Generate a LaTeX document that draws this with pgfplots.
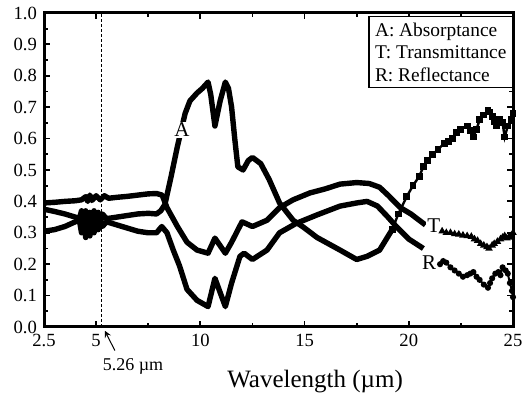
\documentclass[border=0pt]{standalone}
\usepackage{fontspec}
\setmainfont{Liberation Serif}
\usepackage{pgfplots}
\pgfplotsset{compat=1.18}
\begin{document}
\begin{tikzpicture}
\useasboundingbox (-22pt,-33.5pt) rectangle (240pt,163.5pt);
\begin{axis}[
  at={(0,0)}, anchor=south west,
  scale only axis, width=234.5pt, height=157pt,
  xmin=2.5, xmax=25, ymin=0, ymax=1,
  xtick={2.5,5,10,15,20,25}, xticklabels={2.5,5,10,15,20,25},
  minor xtick={7.5,12.5,17.5,22.5},
  ytick={0,0.1,0.2,0.3,0.4,0.5,0.6,0.7,0.8,0.9,1.0},
  minor y tick num=1,
  yticklabel style={/pgf/number format/fixed, /pgf/number format/fixed zerofill, /pgf/number format/precision=1},
  /pgf/number format/assume math mode=true,
  tick align=inside,
  major tick length=3.2pt, minor tick length=2pt,
  every tick/.append style={black, line width=0.9pt},
  axis line style={line width=1.5pt},
  tick label style={font=\fontsize{9.3}{10}\selectfont},
  xlabel={Wavelength (µm)},
  xlabel style={font=\fontsize{12.5}{14}\selectfont, at={(axis description cs:0.578,0)}, anchor=center, yshift=-27.5pt},
  clip=false,
]
% reference line at 5.26 um
\addplot[black, dashed, line width=0.4pt, dash pattern=on 1.5pt off 1pt] coordinates {(5.26,0) (5.26,1)};
% A: Absorptance (main part)
\addplot[black, line width=2.7pt, line join=round] coordinates {
(2.5,0.375) (3,0.368) (3.5,0.36) (4.0,0.35) (4.2,0.345) (4.3,0.37) (4.4,0.32) (4.5,0.37) (4.6,0.31) (4.7,0.365) (4.8,0.33) (4.9,0.37) (5.0,0.33) (5.1,0.365) (5.2,0.335) (5.3,0.36) (5.5,0.345) (6,0.35) (6.5,0.355) (7,0.36) (7.5,0.362) (7.9,0.36) (8.1,0.37) (8.3,0.39) (8.6,0.48) (8.9,0.575) (9.27,0.68) (9.5,0.72) (9.84,0.745) (10.1,0.76) (10.37,0.78) (10.5,0.74) (10.7,0.64) (10.95,0.72) (11.2,0.78) (11.35,0.76) (11.5,0.70) (11.65,0.60) (11.8,0.51) (12.05,0.50) (12.3,0.53) (12.5,0.54) (12.9,0.52) (13.3,0.47) (13.8,0.395) (14.45,0.34) (14.9,0.32) (15.6,0.285) (16.7,0.245) (17.5,0.215) (18.0,0.225) (18.6,0.245) (19.2,0.31)
};
% A: right part with markers
\addplot[black, line width=1.2pt, mark=square*, mark size=1.1pt] coordinates {
(19.2,0.31) (19.5,0.36) (19.9,0.415) (20.2,0.45) (20.5,0.48) (20.7,0.51) (20.9,0.53) (21.15,0.55) (21.4,0.565) (21.7,0.585) (21.9,0.59) (22.1,0.60) (22.3,0.62) (22.5,0.63) (22.8,0.64) (22.95,0.625) (23.1,0.605) (23.25,0.63) (23.4,0.66) (23.6,0.675) (23.8,0.69) (23.9,0.685) (24.0,0.67) (24.1,0.655) (24.2,0.64) (24.35,0.66) (24.5,0.65) (24.6,0.605) (24.75,0.64) (24.9,0.66) (25.0,0.68)
};
% T: Transmittance (main part)
\addplot[black, line width=2.7pt, line join=round] coordinates {
(2.5,0.395) (3,0.397) (3.5,0.40) (4,0.402) (4.3,0.405) (4.5,0.415) (4.6,0.40) (4.7,0.42) (4.8,0.403) (5.0,0.418) (5.2,0.405) (5.4,0.418) (5.6,0.41) (6,0.413) (6.5,0.416) (7,0.42) (7.5,0.424) (7.9,0.425) (8.17,0.42) (8.4,0.38) (8.9,0.32) (9.36,0.27) (9.84,0.245) (10.37,0.235) (10.7,0.283) (11.2,0.235) (11.5,0.27) (12.0,0.335) (12.5,0.32) (13.2,0.34) (13.8,0.38) (14.45,0.405) (15.26,0.427) (16,0.44) (16.7,0.455) (17.5,0.46) (18.1,0.457) (18.6,0.445) (19,0.42) (19.6,0.38) (20.1,0.36) (20.5,0.34) (20.8,0.325)
};
% T: right part with markers
\addplot[black, line width=1.0pt, mark=triangle*, mark size=1.2pt] coordinates {
(21.6,0.305) (21.8,0.30) (22.0,0.30) (22.2,0.296) (22.4,0.295) (22.6,0.292) (22.8,0.29) (23.0,0.288) (23.15,0.28) (23.3,0.275) (23.45,0.265) (23.6,0.26) (23.75,0.255) (23.85,0.25) (24.0,0.26) (24.1,0.265) (24.25,0.272) (24.4,0.28) (24.5,0.285) (24.6,0.29) (24.7,0.283) (24.8,0.285) (24.9,0.29) (25.0,0.30)
};
% R: Reflectance (main part)
\addplot[black, line width=2.7pt, line join=round] coordinates {
(2.5,0.305) (3,0.31) (3.5,0.32) (4.0,0.335) (4.2,0.34) (4.3,0.30) (4.4,0.345) (4.5,0.285) (4.6,0.35) (4.7,0.29) (4.8,0.345) (4.9,0.30) (5.0,0.35) (5.1,0.31) (5.2,0.345) (5.3,0.32) (5.5,0.335) (6.0,0.325) (6.5,0.315) (7.0,0.305) (7.5,0.30) (7.9,0.30) (8.15,0.32) (8.4,0.30) (8.7,0.245) (9.0,0.195) (9.36,0.12) (9.84,0.085) (10.37,0.065) (10.7,0.155) (11.2,0.065) (11.5,0.14) (11.9,0.225) (12.1,0.235) (12.5,0.215) (13.2,0.245) (13.8,0.30) (14.6,0.33) (15.6,0.357) (16.7,0.385) (17.5,0.395) (18.0,0.40) (18.5,0.385) (19.0,0.35) (19.4,0.32) (20.0,0.28) (20.7,0.25)
};
% R: right part with markers
\addplot[black, line width=1.0pt, mark=*, mark size=1.0pt] coordinates {
(21.5,0.20) (21.65,0.21) (21.8,0.205) (22.0,0.19) (22.2,0.18) (22.4,0.17) (22.6,0.16) (22.8,0.165) (22.95,0.17) (23.1,0.175) (23.25,0.16) (23.4,0.15) (23.6,0.135) (23.8,0.125) (23.9,0.14) (24.0,0.155) (24.15,0.17) (24.3,0.175) (24.4,0.165) (24.5,0.19) (24.65,0.18) (24.75,0.17) (24.85,0.14) (24.95,0.115) (25.0,0.095)
};
% curve labels
\node[fill=white, inner sep=0.6pt, font=\fontsize{10.5}{12}\selectfont] at (axis cs:9.12,0.628) {A};
\node[fill=white, inner sep=0.6pt, font=\fontsize{10.5}{12}\selectfont] at (axis cs:21.2,0.322) {T};
\node[fill=white, inner sep=0.6pt, font=\fontsize{10.5}{12}\selectfont] at (axis cs:20.97,0.204) {R};
% legend box
\node[draw, line width=0.6pt, fill=white, anchor=north east, align=left, inner sep=3pt, font=\fontsize{9.7}{11.25}\selectfont] at (rel axis cs:1,1) [yshift=-1.5pt] {A: Absorptance\\T: Transmittance\\R: Reflectance};
% annotation
\node[font=\fontsize{9}{10}\selectfont] at (axis cs:6.77,-0.127) {5.26 µm};
\draw[-stealth, line width=0.5pt] (axis cs:5.9,-0.075) -- (axis cs:5.42,-0.012);
\end{axis}
\end{tikzpicture}
\end{document}
